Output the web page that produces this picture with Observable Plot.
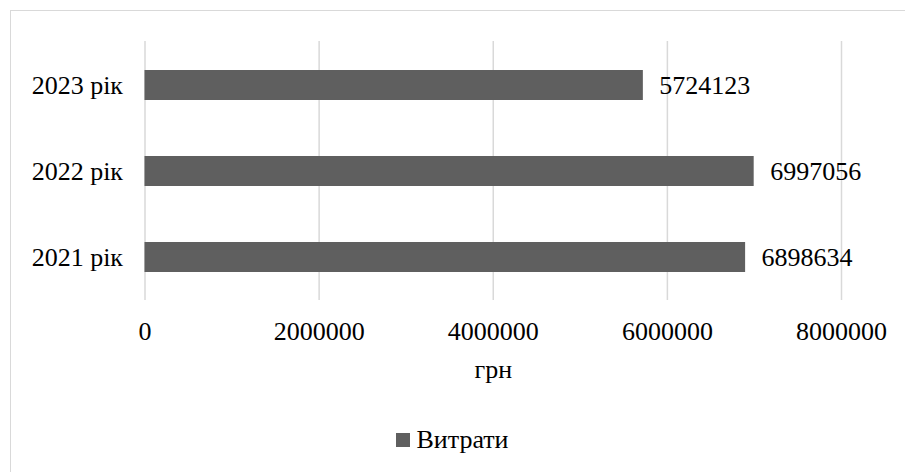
<!DOCTYPE html>
<html>
<head>
<meta charset="utf-8">
<script src="https://cdn.jsdelivr.net/npm/d3@7"></script>
<script src="https://cdn.jsdelivr.net/npm/@observablehq/plot@0.6"></script>
<style>
  html, body { margin: 0; padding: 0; background: #fff; overflow: hidden; }
  #wrap { position: relative; width: 905px; height: 472px; overflow: hidden; font-family: "Liberation Serif", "Times New Roman", serif; }
  #frame { position: absolute; left: 10px; top: 10px; width: 1000px; height: 1000px; border: 1.5px solid #d9d9d9; box-sizing: border-box; pointer-events: none; }
  #legend { position: absolute; left: 0; top: 410px; width: 905px; height: 60px; display: flex; justify-content: center; align-items: center; font-size: 26px; color: #000; }
  #legend .sw { width: 14px; height: 14px; background: #5f5f5f; margin-right: 6px; }
</style>
</head>
<body>
<div id="wrap">
  <div id="chart"></div>
  <div id="legend"><span class="sw"></span><span id="legtext"></span></div>
  <div id="frame"></div>
</div>
<script>
const categories = ["2023 рік", "2022 рік", "2021 рік"];
const values = [5724123, 6997056, 6898634];
const xTicks = [0, 2000000, 4000000, 6000000, 8000000];
const seriesName = "Витрати";
const unitLabel = "грн";

const data = categories.map((c, i) => ({cat: c, val: values[i]}));
const fontSize = 26;

const chart = Plot.plot({
  width: 905,
  height: 410,
  marginTop: 41,
  marginBottom: 110,
  marginLeft: 144.5,
  marginRight: 64,
  style: {fontFamily: "'Liberation Serif', 'Times New Roman', serif", fontSize: fontSize + "px", color: "#000", background: "transparent"},
  x: {domain: [0, 8000000], ticks: xTicks, tickFormat: d => String(d)},
  y: {domain: categories, paddingInner: 0.652, paddingOuter: 0.326, align: 0.5},
  marks: [
    Plot.gridX(xTicks, {stroke: "#d9d9d9", strokeOpacity: 1, strokeWidth: 1.5}),
    Plot.barX(data, {y: "cat", x: "val", fill: "#5f5f5f"}),
    Plot.text(data, {y: "cat", x: "val", text: d => String(d.val), textAnchor: "start", dx: 16, fill: "#000", fontSize: fontSize}),
    Plot.axisX({ticks: xTicks, tickFormat: d => String(d), tickSize: 0, tickPadding: 21, label: null, fontSize: fontSize}),
    Plot.axisY({tickSize: 0, tickPadding: 22, label: null, fontSize: fontSize}),
    Plot.text([unitLabel], {frameAnchor: "bottom", dy: 69, lineAnchor: "middle", fill: "#000", fontSize: fontSize})
  ]
});
document.getElementById("chart").appendChild(chart);
document.getElementById("legtext").textContent = seriesName;
</script>
</body>
</html>
